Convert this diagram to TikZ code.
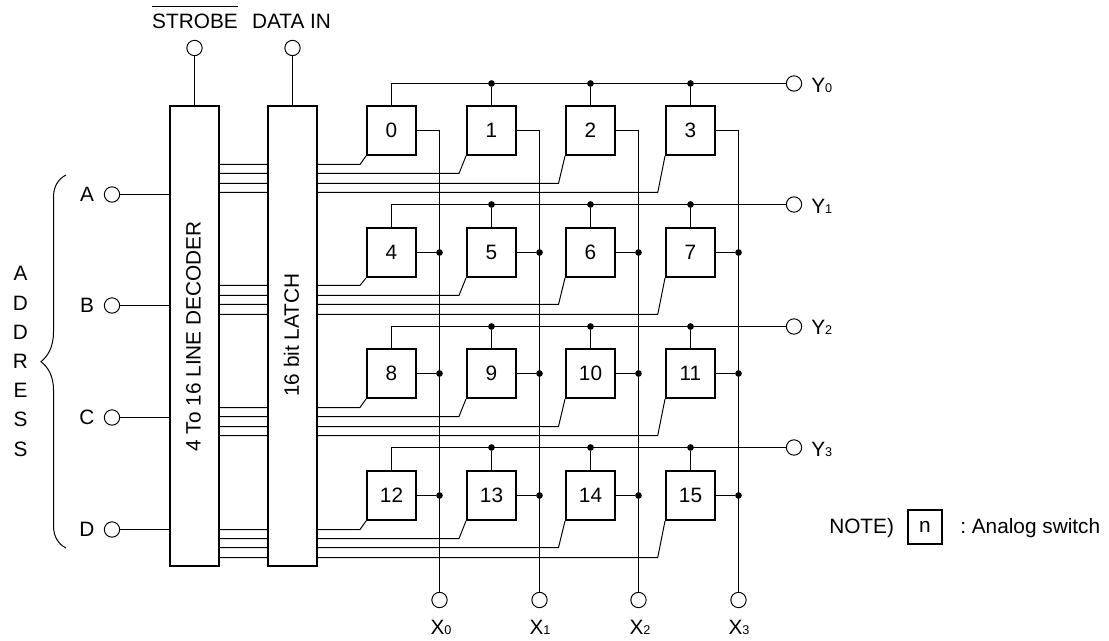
\documentclass[tikz,border=0pt]{standalone}
\usepackage{fontspec}
\setmainfont{Liberation Sans}
\tikzset{
  switchbox/.style={draw,line width=1.5pt,minimum width=36.75pt,minimum height=36.75pt,inner sep=0pt},
  chipbox/.style={draw,line width=1.5pt,minimum width=36.75pt,minimum height=345pt,inner sep=0pt},
  terminal/.style={circle,draw,line width=0.75pt,minimum size=11.5pt,inner sep=0pt},
  junction/.style={circle,fill=black,minimum size=5pt,inner sep=0pt},
  wire/.style={line width=0.75pt},
}
\newcommand{\lbl}{\fontsize{15.6}{18}\selectfont}
\newcommand{\subs}[1]{{\fontsize{9.5}{10}\selectfont #1}}
\begin{document}
\begin{tikzpicture}[x=0.75pt,y=0.75pt,yscale=-1,xscale=1,font=\lbl]
\useasboundingbox (0,0) rectangle (1109,641);

% Decoder and latch
\node [chipbox] (dec) at (194.5,336) {};
\node [chipbox] (lat) at (292.5,336) {};
\node [rotate=90] (dectext) at (193.5,336.5) {4 To 16 LINE DECODER};
\node [rotate=90] (lattext) at (291.5,335) {16 bit LATCH};

% Analog switches
\node [switchbox] (s0) at (391.5,130.5) {0};
\node [switchbox] (s1) at (491.5,130.5) {1};
\node [switchbox] (s2) at (590.5,130.5) {2};
\node [switchbox] (s3) at (690.5,130.5) {3};
\node [switchbox] (s4) at (391.5,252.5) {4};
\node [switchbox] (s5) at (491.5,252.5) {5};
\node [switchbox] (s6) at (590.5,252.5) {6};
\node [switchbox] (s7) at (690.5,252.5) {7};
\node [switchbox] (s8) at (391.5,373.5) {8};
\node [switchbox] (s9) at (491.5,373.5) {9};
\node [switchbox] (s10) at (590.5,373.5) {10};
\node [switchbox] (s11) at (690.5,373.5) {11};
\node [switchbox] (s12) at (391.5,495.5) {12};
\node [switchbox] (s13) at (491.5,495.5) {13};
\node [switchbox] (s14) at (590.5,495.5) {14};
\node [switchbox] (s15) at (690.5,495.5) {15};

% Terminals
\node [terminal] (tstrobe) at (194.5,48) {};
\node [terminal] (tdata) at (292.5,48) {};
\node [terminal] (ta) at (112,194.5) {};
\node [terminal] (tb) at (112,305.5) {};
\node [terminal] (tc) at (112,417.5) {};
\node [terminal] (td) at (112,529.5) {};
\node [terminal] (ty0) at (794,83.5) {};
\node [terminal] (ty1) at (794,204.5) {};
\node [terminal] (ty2) at (794,326.5) {};
\node [terminal] (ty3) at (794,447.5) {};
\node [terminal] (tx0) at (439.5,600) {};
\node [terminal] (tx1) at (539.5,600) {};
\node [terminal] (tx2) at (638.5,600) {};
\node [terminal] (tx3) at (738.5,600) {};

% Text Node
\node [anchor=base] (strobe) at (195,28.5) {$\overline{\mbox{\rule{0pt}{15pt}STROBE}}$};
\node [anchor=base] (datain) at (291.5,28.5) {DATA IN};
\node (la) at (87,194) {A};
\node (lb) at (87,305.5) {B};
\node (lc) at (87,417.5) {C};
\node (ld) at (87,529.5) {D};
\node [anchor=west,inner sep=0pt] (ly0) at (811,85.5) {Y\subs{0}};
\node [anchor=west,inner sep=0pt] (ly1) at (811,206) {Y\subs{1}};
\node [anchor=west,inner sep=0pt] (ly2) at (811,327.5) {Y\subs{2}};
\node [anchor=west,inner sep=0pt] (ly3) at (811,449) {Y\subs{3}};
\node (lx0) at (441,627) {X\subs{0}};
\node (lx1) at (540,627) {X\subs{1}};
\node (lx2) at (640,627) {X\subs{2}};
\node (lx3) at (739,627) {X\subs{3}};
\node [align=center,inner sep=0pt,font=\fontsize{15.6}{21.9}\selectfont] (laddr) at (20.5,361.5) {A\\D\\D\\R\\E\\S\\S};
\node [anchor=base west,inner sep=0pt] (lnote) at (829,533.5) {NOTE)};
\node [draw,line width=1.1pt,minimum size=25.5pt,inner sep=0pt] (nbox) at (925,527) {n};
\node [anchor=base west,inner sep=0pt] (lswitch) at (960,533.5) {:\ Analog switch};

% Address brace
\draw [wire] (66,175) .. controls (58,179) and (53.5,187) .. (53.5,197) -- (53.5,332) .. controls (53.5,347) and (48,356) .. (41,361.7) .. controls (48,367) and (53.5,376) .. (53.5,390) -- (53.5,526) .. controls (53.5,536) and (58,544) .. (66,548);

% Inputs
\draw [wire] (tstrobe) -- (tstrobe |- dec.north);
\draw [wire] (tdata) -- (tdata |- lat.north);
\draw [wire] (ta) -- (ta -| dec.west);
\draw [wire] (tb) -- (tb -| dec.west);
\draw [wire] (tc) -- (tc -| dec.west);
\draw [wire] (td) -- (td -| dec.west);

% Y lines
\node [junction] (y01) at (s1 |- ty0) {};
\node [junction] (y02) at (s2 |- ty0) {};
\node [junction] (y03) at (s3 |- ty0) {};
\node [junction] (y11) at (s5 |- ty1) {};
\node [junction] (y12) at (s6 |- ty1) {};
\node [junction] (y13) at (s7 |- ty1) {};
\node [junction] (y21) at (s9 |- ty2) {};
\node [junction] (y22) at (s10 |- ty2) {};
\node [junction] (y23) at (s11 |- ty2) {};
\node [junction] (y31) at (s13 |- ty3) {};
\node [junction] (y32) at (s14 |- ty3) {};
\node [junction] (y33) at (s15 |- ty3) {};
\draw [wire] (s0) |- (ty0);
\draw [wire] (s4) |- (ty1);
\draw [wire] (s8) |- (ty2);
\draw [wire] (s12) |- (ty3);
\draw [wire] (y01) -- (s1);
\draw [wire] (y02) -- (s2);
\draw [wire] (y03) -- (s3);
\draw [wire] (y11) -- (s5);
\draw [wire] (y12) -- (s6);
\draw [wire] (y13) -- (s7);
\draw [wire] (y21) -- (s9);
\draw [wire] (y22) -- (s10);
\draw [wire] (y23) -- (s11);
\draw [wire] (y31) -- (s13);
\draw [wire] (y32) -- (s14);
\draw [wire] (y33) -- (s15);

% X lines
\draw [wire] (s0) -| (tx0);
\draw [wire] (s1) -| (tx1);
\draw [wire] (s2) -| (tx2);
\draw [wire] (s3) -| (tx3);
\node [junction] (x40) at (tx0 |- s4) {};
\node [junction] (x51) at (tx1 |- s5) {};
\node [junction] (x62) at (tx2 |- s6) {};
\node [junction] (x73) at (tx3 |- s7) {};
\node [junction] (x80) at (tx0 |- s8) {};
\node [junction] (x91) at (tx1 |- s9) {};
\node [junction] (x102) at (tx2 |- s10) {};
\node [junction] (x113) at (tx3 |- s11) {};
\node [junction] (x120) at (tx0 |- s12) {};
\node [junction] (x131) at (tx1 |- s13) {};
\node [junction] (x142) at (tx2 |- s14) {};
\node [junction] (x153) at (tx3 |- s15) {};
\draw [wire] (s4) -- (x40);
\draw [wire] (s5) -- (x51);
\draw [wire] (s6) -- (x62);
\draw [wire] (s7) -- (x73);
\draw [wire] (s8) -- (x80);
\draw [wire] (s9) -- (x91);
\draw [wire] (s10) -- (x102);
\draw [wire] (s11) -- (x113);
\draw [wire] (s12) -- (x120);
\draw [wire] (s13) -- (x131);
\draw [wire] (s14) -- (x142);
\draw [wire] (s15) -- (x153);

% Bus bends
\coordinate (b0) at (360,164.5);
\coordinate (b1) at (459,173.5);
\coordinate (b2) at (558.5,183.5);
\coordinate (b3) at (657.7,192.5);
\coordinate (b4) at (360,285.5);
\coordinate (b5) at (459,295.5);
\coordinate (b6) at (558.5,304.5);
\coordinate (b7) at (657.7,314.5);
\coordinate (b8) at (360,407.5);
\coordinate (b9) at (459,416.5);
\coordinate (b10) at (558.5,426.5);
\coordinate (b11) at (657.7,435.5);
\coordinate (b12) at (360,529.5);
\coordinate (b13) at (459,538.5);
\coordinate (b14) at (558.5,547.5);
\coordinate (b15) at (657.7,557.5);

% Bus lines
\draw [wire] (dec.east |- b0) -- (lat.west |- b0) (lat.east |- b0) -- (b0) -- (s0.south west);
\draw [wire] (dec.east |- b1) -- (lat.west |- b1) (lat.east |- b1) -- (b1) -- (s1.south west);
\draw [wire] (dec.east |- b2) -- (lat.west |- b2) (lat.east |- b2) -- (b2) -- (s2.south west);
\draw [wire] (dec.east |- b3) -- (lat.west |- b3) (lat.east |- b3) -- (b3) -- (s3.south west);
\draw [wire] (dec.east |- b4) -- (lat.west |- b4) (lat.east |- b4) -- (b4) -- (s4.south west);
\draw [wire] (dec.east |- b5) -- (lat.west |- b5) (lat.east |- b5) -- (b5) -- (s5.south west);
\draw [wire] (dec.east |- b6) -- (lat.west |- b6) (lat.east |- b6) -- (b6) -- (s6.south west);
\draw [wire] (dec.east |- b7) -- (lat.west |- b7) (lat.east |- b7) -- (b7) -- (s7.south west);
\draw [wire] (dec.east |- b8) -- (lat.west |- b8) (lat.east |- b8) -- (b8) -- (s8.south west);
\draw [wire] (dec.east |- b9) -- (lat.west |- b9) (lat.east |- b9) -- (b9) -- (s9.south west);
\draw [wire] (dec.east |- b10) -- (lat.west |- b10) (lat.east |- b10) -- (b10) -- (s10.south west);
\draw [wire] (dec.east |- b11) -- (lat.west |- b11) (lat.east |- b11) -- (b11) -- (s11.south west);
\draw [wire] (dec.east |- b12) -- (lat.west |- b12) (lat.east |- b12) -- (b12) -- (s12.south west);
\draw [wire] (dec.east |- b13) -- (lat.west |- b13) (lat.east |- b13) -- (b13) -- (s13.south west);
\draw [wire] (dec.east |- b14) -- (lat.west |- b14) (lat.east |- b14) -- (b14) -- (s14.south west);
\draw [wire] (dec.east |- b15) -- (lat.west |- b15) (lat.east |- b15) -- (b15) -- (s15.south west);

\end{tikzpicture}
\end{document}
